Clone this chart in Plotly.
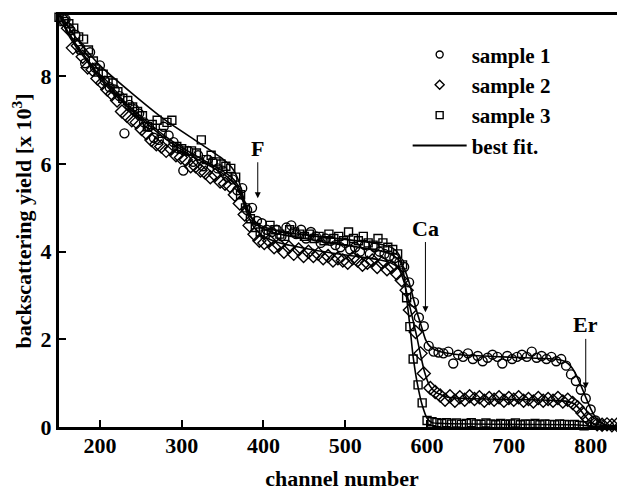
import plotly.graph_objects as go

# ---------------- data ----------------
ch1 = [151, 158, 164, 170, 176, 182, 188, 194, 200, 206,
       212, 218, 224, 230, 236, 242, 248, 254, 260, 266,
       272, 278, 284, 290, 296, 302, 308, 314, 320, 326,
       332, 338, 344, 350, 356, 362, 368, 374, 380, 386,
       392, 398, 404, 410, 416, 422, 428, 434, 440, 446,
       452, 458, 464, 470, 476, 482, 488, 494, 500, 506,
       512, 518, 524, 530, 536, 542, 548, 554, 560, 566,
       572, 578, 584, 590, 596, 602, 608, 614, 620, 626,
       632, 638, 644, 650, 656, 662, 668, 674, 680, 686,
       692, 698, 704, 710, 716, 722, 728, 734, 740, 746,
       752, 758, 764, 770, 776, 782, 788, 794, 800, 806, 812]
s1 = [9.55, 9.3, 9.05, 8.95, 8.6, 8.3, 8.55, 8.2, 8.25, 7.9,
      7.75, 7.7, 7.55, 6.7, 7.35, 7.25, 7.15, 6.95, 6.85, 6.6,
      6.55, 6.85, 6.65, 6.5, 6.35, 5.85, 6.3, 6.05, 6.2, 5.95,
      6.1, 6.05, 5.9, 5.85, 5.7, 5.65, 5.4, 5.45, 4.95, 5.0,
      4.7, 4.65, 4.5, 4.45, 4.5, 4.35, 4.55, 4.6, 4.4, 4.5,
      4.3, 4.45, 4.35, 4.2, 4.3, 4.25, 4.15, 4.1, 4.2, 4.05,
      4.1, 4.0, 4.15, 3.95, 4.1, 4.0, 3.95, 3.9, 3.85, 3.75,
      3.65, 3.3, 2.85, 2.5, 2.3, 1.85, 1.72, 1.7, 1.68, 1.72,
      1.45, 1.65, 1.6, 1.68, 1.55, 1.62, 1.5, 1.58, 1.65, 1.6,
      1.45, 1.62, 1.55, 1.6, 1.65, 1.6, 1.72, 1.58, 1.62, 1.55,
      1.6, 1.5, 1.55, 1.4, 1.2, 1.05, 0.85, 0.65, 0.4, 0.15, 0.06]

ch2 = [155, 161, 167, 173, 179, 185, 191, 197, 203, 209,
       215, 221, 227, 233, 239, 245, 251, 257, 263, 269,
       275, 281, 287, 293, 299, 305, 311, 317, 323, 329,
       335, 341, 347, 353, 359, 365, 371, 377, 383, 389,
       395, 401, 407, 413, 419, 425, 431, 437, 443, 449,
       455, 461, 467, 473, 479, 485, 491, 497, 503, 509,
       515, 521, 527, 533, 539, 545, 551, 557, 563, 569,
       575, 579, 586, 592, 596, 604, 610, 616, 622, 628,
       634, 640, 646, 652, 658, 664, 670, 676, 682, 688,
       694, 700, 706, 712, 718, 724, 730, 736, 742, 748,
       754, 760, 766, 772, 778, 784, 790, 796, 802, 808,
       814, 820, 826, 832, 838]
s2 = [9.3, 9.1, 8.65, 8.7, 8.45, 8.2, 8.15, 7.95, 7.85, 7.7,
      7.6, 7.45, 7.2, 7.1, 7.0, 6.95, 6.8, 6.7, 6.55, 6.45,
      6.4, 6.3, 6.35, 6.2, 6.15, 6.1, 5.95, 5.95, 5.85, 5.8,
      5.7, 5.75, 5.6, 5.55, 5.5, 5.3, 5.1, 4.85, 4.6, 4.4,
      4.25, 4.2, 4.25, 4.1, 4.15, 4.0, 4.1, 3.95, 4.05, 3.9,
      4.0, 3.9, 3.95, 3.85, 3.9, 3.8, 3.85, 3.8, 3.75, 3.85,
      3.8, 3.7, 3.75, 3.8, 3.65, 3.75, 3.6, 3.65, 3.5, 3.35,
      3.12, 2.67, 2.17, 1.68, 1.22, 0.89, 0.8, 0.72, 0.62, 0.7,
      0.6, 0.68, 0.62, 0.7, 0.64, 0.68, 0.6, 0.66, 0.62, 0.68,
      0.6, 0.66, 0.62, 0.68, 0.6, 0.64, 0.58, 0.66, 0.6, 0.64,
      0.6, 0.66, 0.58, 0.62, 0.55, 0.45, 0.32, 0.2, 0.1, 0.06,
      0.05, 0.06, 0.04, 0.05, 0.04]

ch3 = [150, 156, 162, 168, 174, 180, 186, 192, 198, 204,
       210, 216, 222, 228, 234, 240, 246, 252, 258, 264,
       270, 276, 282, 288, 294, 300, 306, 312, 318, 324,
       330, 336, 342, 348, 354, 360, 366, 372, 378, 384,
       390, 396, 402, 408, 414, 420, 426, 432, 438, 444,
       450, 456, 462, 468, 474, 480, 486, 492, 498, 504,
       510, 516, 522, 528, 534, 540, 546, 552, 558, 564,
       570, 575, 579, 583, 589, 594, 600, 606, 612, 618,
       624, 630, 636, 642, 648, 654, 660, 666, 672, 678,
       684, 690, 696, 702, 708, 714, 720, 726, 732, 738,
       744, 750, 756, 762, 768, 774, 780, 786, 792]
s3 = [9.35, 9.25, 9.2, 9.1, 8.9, 8.85, 8.6, 8.35, 8.1, 8.05,
      7.9, 7.85, 7.65, 7.5, 7.45, 7.3, 7.2, 7.1, 6.85, 6.9,
      7.0, 6.7, 6.95, 7.0, 6.4, 6.35, 6.3, 6.3, 6.25, 6.55,
      6.1, 6.2, 6.05, 6.0, 5.95, 5.9, 5.7, 5.3, 5.0, 4.75,
      4.55, 4.45, 4.4, 4.6, 4.5, 4.4, 4.35, 4.5, 4.45, 4.4,
      4.35, 4.4, 4.3, 4.35, 4.25, 4.4, 4.3, 4.35, 4.25, 4.45,
      4.3, 4.25, 4.35, 4.2, 4.15, 4.3, 4.2, 4.1, 4.05, 3.95,
      3.7, 2.95, 2.29, 1.55, 0.96, 0.55, 0.15, 0.12, 0.1, 0.08,
      0.1, 0.07, 0.09, 0.06, 0.08, 0.1, 0.07, 0.06, 0.09, 0.07,
      0.05, 0.08, 0.06, 0.07, 0.09, 0.05, 0.07, 0.06, 0.08, 0.05,
      0.07, 0.06, 0.05, 0.07, 0.06, 0.05, 0.06, 0.04, 0.03]

fit_ch1 = [150, 160, 170, 180, 190, 200, 220, 240, 260, 280, 300, 320, 340, 355, 365,
           372, 378, 384, 390, 400, 420, 450, 480, 510, 540, 555, 565, 572, 578, 583,
           588, 593, 598, 603, 610, 620, 640, 680, 720, 755, 768, 776, 782, 788, 794,
           800, 806, 812, 820, 842]
fit1 = [9.45, 9.05, 8.75, 8.5, 8.25, 8.0, 7.6, 7.25, 6.93, 6.63, 6.38, 6.16, 5.95, 5.78, 5.62,
        5.38, 5.05, 4.8, 4.66, 4.52, 4.4, 4.3, 4.2, 4.12, 4.03, 3.95, 3.82, 3.62, 3.3, 2.95,
        2.6, 2.3, 2.0, 1.85, 1.76, 1.7, 1.65, 1.61, 1.58, 1.55, 1.5, 1.38, 1.2, 0.95, 0.68,
        0.42, 0.22, 0.1, 0.04, 0.02]

fit_ch2 = [150, 160, 170, 180, 190, 200, 220, 240, 260, 280, 300, 320, 340, 355, 365,
           372, 378, 384, 390, 400, 420, 450, 480, 510, 540, 555, 565, 572, 577, 582,
           587, 592, 597, 603, 610, 625, 650, 700, 750, 770, 780, 786, 792, 798, 805,
           820, 842]
fit2 = [9.45, 9.0, 8.7, 8.45, 8.2, 7.95, 7.55, 7.2, 6.88, 6.58, 6.33, 6.1, 5.9, 5.72, 5.55,
        5.3, 4.98, 4.7, 4.52, 4.35, 4.2, 4.08, 3.98, 3.9, 3.82, 3.75, 3.62, 3.3, 2.9, 2.5,
        2.1, 1.65, 1.25, 0.95, 0.8, 0.68, 0.65, 0.63, 0.61, 0.59, 0.53, 0.42, 0.28, 0.15, 0.07,
        0.03, 0.02]

fit_ch3 = [150, 170, 200, 240, 280, 320, 350, 362, 370, 376, 382, 388, 396, 420, 460,
           500, 540, 558, 566, 571, 575, 579, 583, 588, 594, 600, 606, 620, 700, 780,
           790, 800, 842]
fit3 = [9.45, 8.9, 8.25, 7.6, 7.0, 6.5, 6.12, 5.9, 5.6, 5.2, 4.9, 4.72, 4.6, 4.46, 4.36,
        4.28, 4.18, 4.08, 3.92, 3.55, 2.95, 2.3, 1.6, 1.0, 0.5, 0.2, 0.1, 0.08, 0.06, 0.05,
        0.04, 0.02, 0.02]

labels = ["sample 1", "sample 2", "sample 3", "best fit."]

x_ticks = [200, 300, 400, 500, 600, 700, 800]
y_ticks = [0, 2, 4, 6, 8]

# annotations: label, channel, text y, arrow tip y
arrow_labels = ["F", "Ca", "Er"]
arrow_ch = [393, 598, 794]
arrow_text_y = [6.36, 4.54, 2.33]
arrow_tip_y = [5.22, 2.62, 0.88]

# ---------------- figure ----------------
FONT = "Liberation Serif"
FS = 22
def f(size=FS):
    return dict(family=FONT, size=size, color="black", weight="bold")

fig = go.Figure()

mk_line = dict(color="black", width=1.4)
fig.add_trace(go.Scatter(x=ch1, y=s1, mode="markers", showlegend=False, cliponaxis=False,
                         marker=dict(symbol="circle-open", size=9, color="black", line=mk_line)))
fig.add_trace(go.Scatter(x=ch2, y=s2, mode="markers", showlegend=False, cliponaxis=False,
                         marker=dict(symbol="diamond-open", size=10, color="black", line=mk_line)))
fig.add_trace(go.Scatter(x=ch3, y=s3, mode="markers", showlegend=False, cliponaxis=False,
                         marker=dict(symbol="square-open", size=8, color="black", line=mk_line)))
for fx, fy in [(fit_ch1, fit1), (fit_ch2, fit2), (fit_ch3, fit3)]:
    fig.add_trace(go.Scatter(x=fx, y=fy, mode="lines", showlegend=False,
                             line=dict(color="black", width=1.6, shape="spline", smoothing=0.6)))

# legend-only entries
for sym, name in zip(["circle-open", "diamond-open", "square-open"], labels[:3]):
    fig.add_trace(go.Scatter(x=[None], y=[None], mode="markers", name=name,
                             marker=dict(symbol=sym, size=7, color="black",
                                         line=dict(color="black", width=1.4))))
fig.add_trace(go.Scatter(x=[None], y=[None], mode="lines", name=labels[3],
                         line=dict(color="black", width=2)))

for lab, cx, ty, tip in zip(arrow_labels, arrow_ch, arrow_text_y, arrow_tip_y):
    fig.add_annotation(x=cx, y=tip, ax=cx, ay=ty, xref="x", yref="y", axref="x", ayref="y",
                       text=lab, showarrow=True, arrowhead=2, arrowsize=1.2, arrowwidth=1,
                       arrowcolor="black", font=f())

# page body has an 8px default margin; figure sized so the plot lands where the reference has it
fig.update_layout(
    width=617, height=488,
    margin=dict(l=51, r=0, t=7, b=69, autoexpand=False),
    plot_bgcolor="white", paper_bgcolor="white",
    font=f(),
    legend=dict(x=0.616, y=0.953, xanchor="left", yanchor="top",
                bgcolor="rgba(0,0,0,0)", font=f(21), itemwidth=54, tracegroupgap=0),
    xaxis=dict(range=[150, 842], tickvals=x_ticks, showline=True, linecolor="black", linewidth=3,
               mirror=True, ticks="inside", ticklen=7, tickwidth=2, tickcolor="black",
               showgrid=False, zeroline=False, automargin=False, tickfont=f(),
               ticklabelstandoff=-3,
               title=dict(text="channel number", standoff=14, font=f())),
    yaxis=dict(range=[0, 9.4], tickvals=y_ticks, showline=True, linecolor="black", linewidth=3,
               ticks="inside", ticklen=7, tickwidth=2, tickcolor="black",
               showgrid=False, zeroline=False, automargin=False, tickfont=f(),
               title=dict(text="backscattering yield [x 10<sup>3</sup>]", standoff=6, font=f())),
)

fig.write_html("out.html")
